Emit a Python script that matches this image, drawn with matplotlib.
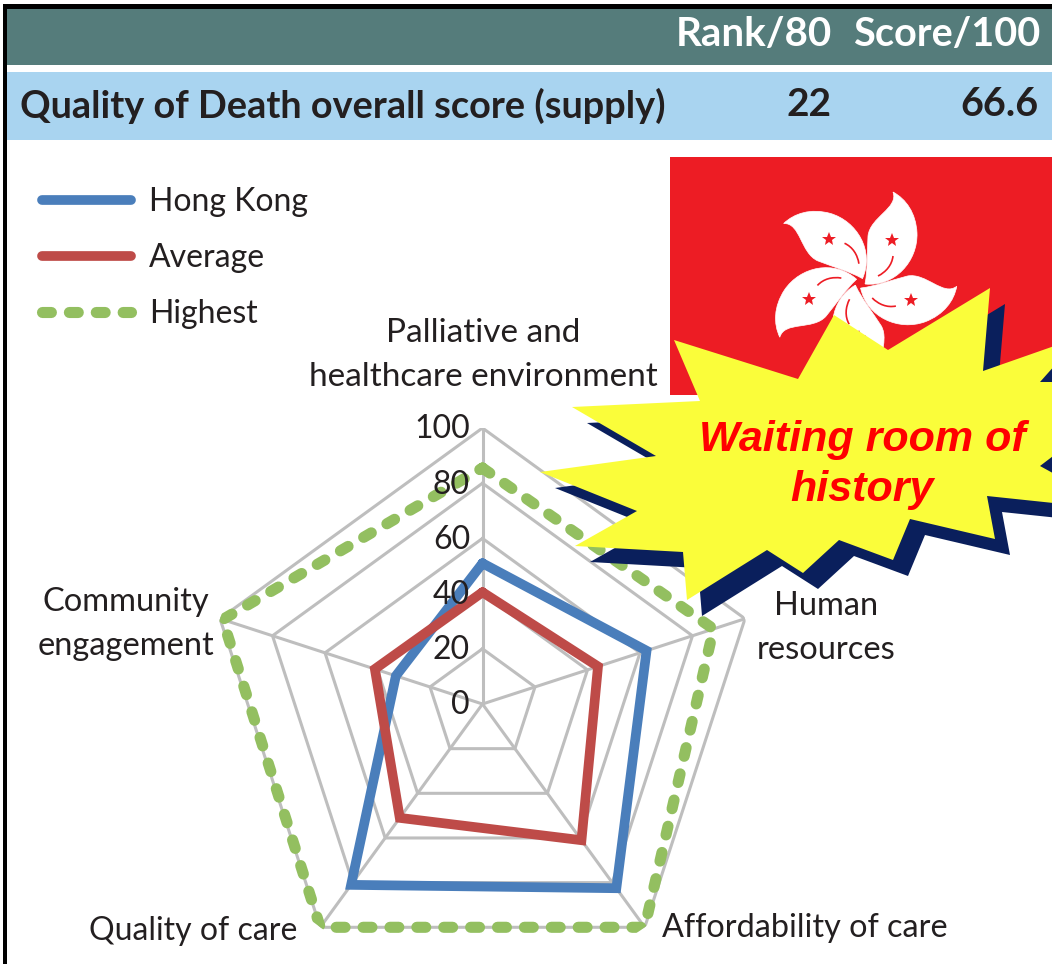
import matplotlib
# Allow plot rendering without GUI
matplotlib.use('Agg')
import matplotlib.pyplot as plt
import numpy as np
from matplotlib.path import Path
from matplotlib.patches import PathPatch, Polygon, Rectangle
from matplotlib.transforms import Affine2D

categories = ["Palliative and\nhealthcare environment", "Human\nresources", "Affordability of care", "Quality of care", "Community\nengagement"]
hong_kong = [51, 62.5, 82.5, 81, 33]
average = [40.5, 44, 61, 51, 41]
highest = [85.5, 88, 100, 100, 99]
radial_ticks = [0, 20, 40, 60, 80, 100]

BLUE = "#4A7EBB"
RED = "#BE4B48"
GREEN = "#93BF60"
GRID = "#BEBEBE"
TEXT = "#231F20"
FLAG = "#ED1C24"
NAVY = "#0A1F5C"
YELLOW = "#FAFD3A"

W, H = 1052, 964
CX, CY, R = 482.5, 704, 276

plt.rcParams['font.family'] = ['Lato', 'DejaVu Sans']

fig = plt.figure(figsize=(W / 100, H / 100), dpi=100)

# radar chart
ax = fig.add_axes([(CX - R) / W, 1 - (CY + R) / H, 2 * R / W, 2 * R / H], projection='polar')
ax.set_theta_offset(np.pi / 2)
ax.set_theta_direction(-1)
ax.set_ylim(0, 100)
ax.axis('off')

theta = [2 * np.pi * i / 5 for i in range(5)]
closed_theta = theta + theta[:1]

for t in radial_ticks[1:]:
    ax.plot(closed_theta, [t] * 6, color=GRID, lw=2.2, zorder=1)
for a in theta:
    ax.plot([a, a], [0, 100], color=GRID, lw=2.2, zorder=1)

line_hk, = ax.plot(closed_theta, hong_kong + hong_kong[:1], color=BLUE, lw=7, zorder=3, solid_joinstyle='miter',
                   solid_capstyle='round', label="Hong Kong")
line_avg, = ax.plot(closed_theta, average + average[:1], color=RED, lw=7, zorder=3, solid_joinstyle='miter',
                    solid_capstyle='round', label="Average")
line_high, = ax.plot(closed_theta, highest + highest[:1], color=GREEN, lw=8, zorder=4, linestyle=(0, (0.8, 1.62)),
                     dash_capstyle='round', label="Highest")

for t in radial_ticks:
    ax.annotate(str(t), xy=(0, t), xytext=(-9, -1), textcoords='offset points', ha='right', va='center',
                fontsize=23, color=TEXT, zorder=5)

fig.legend(handles=[line_hk, line_avg, line_high], loc='upper left', bbox_to_anchor=(42 / W, 1 - 187 / H), frameon=False,
           fontsize=23, handlelength=2.8, handletextpad=0.56, labelspacing=0.82, labelcolor=TEXT, borderpad=0, borderaxespad=0)

# everything around the chart, in image pixels
over = fig.add_axes([0, 0, 1, 1], zorder=10)
over.set_xlim(0, W)
over.set_ylim(H, 0)
over.axis('off')

over.add_patch(Rectangle((3, 4), W, 5, color="black", lw=0))
over.add_patch(Rectangle((3, 4), 4, H, color="black", lw=0))
over.add_patch(Rectangle((7, 9), W, 56, color="#557C7B", lw=0))
over.add_patch(Rectangle((7, 72), W, 68, color="#A9D4F0", lw=0))

over.text(832, 35, "Rank/80", ha='right', va='center', fontsize=29, fontweight='bold', color="white")
over.text(1040, 35, "Score/100", ha='right', va='center', fontsize=28.5, fontweight='bold', color="white")
over.text(20, 106, "Quality of Death overall score (supply)", ha='left', va='center', fontsize=27.3, fontweight='bold', color=TEXT)
over.text(831, 105, "22", ha='right', va='center', fontsize=28, fontweight='bold', color=TEXT)
over.text(1038, 105, "66.6", ha='right', va='center', fontsize=28.5, fontweight='bold', color=TEXT)

label_xy = [(483, 355), (826, 628), (805, 928), (193, 931), (126, 624)]
label_size = [24, 23.5, 23.3, 23, 23.5]
for name, (x, y), size in zip(categories, label_xy, label_size):
    over.text(x, y, name, ha='center', va='center', fontsize=size, color=TEXT, linespacing=1.55)

# flag
over.add_patch(Rectangle((670, 157), W - 670, 238, color=FLAG, lw=0))
FX, FY = 860, 283
petal = Path([(5, 1), (35, 4), (58, -22), (57, -50), (56, -70), (46, -84), (33, -91),
              (39, -75), (10, -66), (8, -47), (7, -30), (8, -15), (5, 1)],
             [Path.MOVETO] + [Path.CURVE4] * 12)
vein = Path([(33, -27), (32, -18), (26, -11), (18, -7)], [Path.MOVETO] + [Path.CURVE4] * 3)
for k in range(5):
    rot = Affine2D().rotate_deg(72 * k).translate(FX, FY)
    over.add_patch(PathPatch(petal.transformed(rot), fc="white", ec="white", lw=0.5, zorder=1))
    over.add_patch(PathPatch(vein.transformed(rot), fc="none", ec=FLAG, lw=1.2, zorder=1.1))
    sx, sy = rot.transform((32, -43))
    over.plot([sx], [sy], marker='*', ms=10, color=FLAG, mew=0, zorder=1.1)

# burst with its shadow
burst = np.array([(674, 340), (798, 379), (834, 315), (888, 350), (990, 288), (983, 371), (1080, 337), (1040, 382),
                  (1150, 382), (1040, 466), (1120, 510), (987, 496), (995, 539), (910, 519), (893, 560), (839, 540),
                  (803, 573), (767, 550), (687, 600), (683, 552), (575, 546), (637, 511), (540, 472), (656, 456),
                  (572, 407), (700, 401)])
over.add_patch(Polygon(burst + (15, 16), closed=True, fc=NAVY, lw=0, zorder=3))
over.add_patch(Polygon(burst, closed=True, fc=YELLOW, lw=0, zorder=3.1))
over.text(862, 465, "Waiting room of\nhistory", ha='center', va='center', fontsize=31, color="#FF0000", fontweight='bold',
          fontstyle='italic', family=['Liberation Sans'], linespacing=1.35, zorder=4)

fig.savefig("out.png", dpi=100)
